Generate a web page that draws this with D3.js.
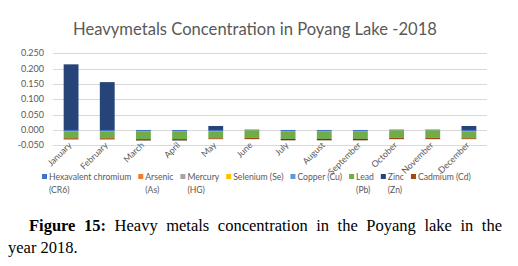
<!DOCTYPE html>
<html>
<head>
<meta charset="utf-8">
<script src="https://cdn.jsdelivr.net/npm/d3@7"></script>
<style>
  body { margin: 0; background: #fff; }
  #chart { position: absolute; left: 0; top: 0; }
  .cap { position: absolute; font-family: "Liberation Serif", "Times New Roman", serif; font-size: 16.5px; color: #000; white-space: nowrap; }
  #cap1 { left: 29px; top: 216px; width: 473px; text-align: justify; text-align-last: justify; white-space: normal; }
  #cap2 { left: 8px; top: 238px; }
</style>
</head>
<body>
<div id="chart"></div>
<div class="cap" id="cap1"><b>Figure 15:</b> Heavy metals concentration in the Poyang lake in the</div>
<div class="cap" id="cap2">year 2018.</div>
<script>
const width = 518
const height = 205

const months = ["January", "February", "March", "April", "May", "June", "July", "August", "September", "October", "November", "December"]
const seriesNames = ["Hexavalent chromium (CR6)", "Arsenic (As)", "Mercury (HG)", "Selenium (Se)", "Copper (Cu)", "Lead (Pb)", "Zinc (Zn)", "Cadmium (Cd)"]
const legendLines = [["Hexavalent chromium", "(CR6)"], ["Arsenic", "(As)"], ["Mercury", "(HG)"], ["Selenium (Se)"], ["Copper (Cu)"], ["Lead", "(Pb)"], ["Zinc", "(Zn)"], ["Cadmium (Cd)"]]
const colors = ["#4472C4", "#ED7D31", "#A5A5A5", "#FFC000", "#5B9BD5", "#70AD47", "#264478", "#9E480E"]

// values per month, one array per metal
const hexChromium = [-0.004, -0.004, -0.004, -0.004, -0.004, -0.001, -0.004, -0.004, -0.004, -0.001, -0.001, -0.004]
const arsenic = [0, 0, 0, 0, 0, 0.002, 0, 0, 0, 0.002, 0.002, 0]
const mercury = [0, 0, 0, 0, 0, 0, 0, 0, 0, 0, 0, 0]
const selenium = [0, 0, 0, 0, 0, 0, 0, 0, 0, 0, 0, 0]
const copper = [0, 0, 0, 0, 0, 0, 0, 0, 0, 0, 0, 0]
const lead = [-0.023, -0.023, -0.026, -0.026, -0.023, -0.024, -0.025, -0.025, -0.025, -0.024, -0.024, -0.023]
const zinc = [0.214, 0.156, -0.004, -0.004, 0.013, 0, -0.004, -0.004, -0.004, 0, 0, 0.013]
const cadmium = [-0.004, -0.004, -0.001, -0.001, -0.003, -0.005, -0.001, -0.001, -0.001, -0.005, -0.005, -0.003]
const yTicks = [-0.05, 0, 0.05, 0.1, 0.15, 0.2, 0.25]

const allSeries = [hexChromium, arsenic, mercury, selenium, copper, lead, zinc, cadmium]
const table = months.map((m, i) => {
  const row = { month: m }
  seriesNames.forEach((s, j) => row[s] = allSeries[j][i])
  return row
})

const svg = d3.select("#chart")
  .append("svg")
  .attr("width", width)
  .attr("height", height)

const font = "Lato, 'Open Sans', sans-serif"
const grey = "#595959"

const xScale = d3.scaleBand()
  .domain(months)
  .range([53, 487])
  .paddingInner(0.59)
  .paddingOuter(0.295)

const yScale = d3.scaleLinear()
  .domain([-0.05, 0.25])
  .range([145.3, 53.3])

// title
svg.append("text")
  .attr("x", 255)
  .attr("y", 34.5)
  .attr("text-anchor", "middle")
  .attr("font-family", font)
  .attr("font-size", 16.6)
  .attr("fill", grey)
  .text("Heavymetals Concentration in Poyang Lake -2018")

// gridlines
svg.append("g")
  .selectAll("line")
  .data(yTicks)
  .join("line")
  .attr("x1", 53)
  .attr("x2", 487)
  .attr("y1", d => Math.round(yScale(d)) + 0.5)
  .attr("y2", d => Math.round(yScale(d)) + 0.5)
  .attr("stroke", "#D9D9D9")
  .attr("stroke-width", 1)

// y labels
const fmt = d3.format(".3f")
svg.append("g")
  .selectAll("text")
  .data(yTicks)
  .join("text")
  .attr("x", 44)
  .attr("y", d => yScale(d))
  .attr("dy", "0.35em")
  .attr("text-anchor", "end")
  .attr("font-family", font)
  .attr("font-size", 9)
  .attr("fill", grey)
  .text(d => fmt(d).replace("\u2212", "-"))

// stacked bars
const stack = d3.stack()
  .keys(seriesNames)
  .offset(d3.stackOffsetDiverging)
const stacked = stack(table)

svg.append("g")
  .selectAll("g")
  .data(stacked)
  .join("g")
  .attr("fill", (d, i) => colors[i])
  .selectAll("rect")
  .data(d => d)
  .join("rect")
  .attr("x", d => xScale(d.data.month))
  .attr("width", xScale.bandwidth())
  .attr("y", d => yScale(Math.max(d[0], d[1])))
  .attr("height", d => Math.abs(yScale(d[0]) - yScale(d[1])))

// month labels
svg.append("g")
  .selectAll("text")
  .data(months)
  .join("text")
  .attr("transform", d => `translate(${xScale(d) + xScale.bandwidth() / 2 - 1},${143.5}) rotate(-45)`)
  .attr("text-anchor", "end")
  .attr("dy", "0.35em")
  .attr("font-family", font)
  .attr("font-size", 8.8)
  .attr("fill", grey)
  .text(d => d)

// legend
const legend = svg.append("g")
let lx = 42
legendLines.forEach((lines, i) => {
  const item = legend.append("g").attr("transform", `translate(${lx},177)`)
  item.append("rect")
    .attr("x", 0)
    .attr("y", -3)
    .attr("width", 5)
    .attr("height", 5)
    .attr("fill", colors[i])
  const t = item.append("text")
    .attr("font-family", font)
    .attr("font-size", 8.6)
    .attr("fill", grey)
  lines.forEach((ln, k) => {
    t.append("tspan")
      .attr("x", 7)
      .attr("y", k * 13)
      .attr("dy", "0.35em")
      .text(ln)
  })
  const w = d3.max(t.selectAll("tspan").nodes(), n => n.getComputedTextLength())
  lx += 7 + w + 7
})
</script>
</body>
</html>
